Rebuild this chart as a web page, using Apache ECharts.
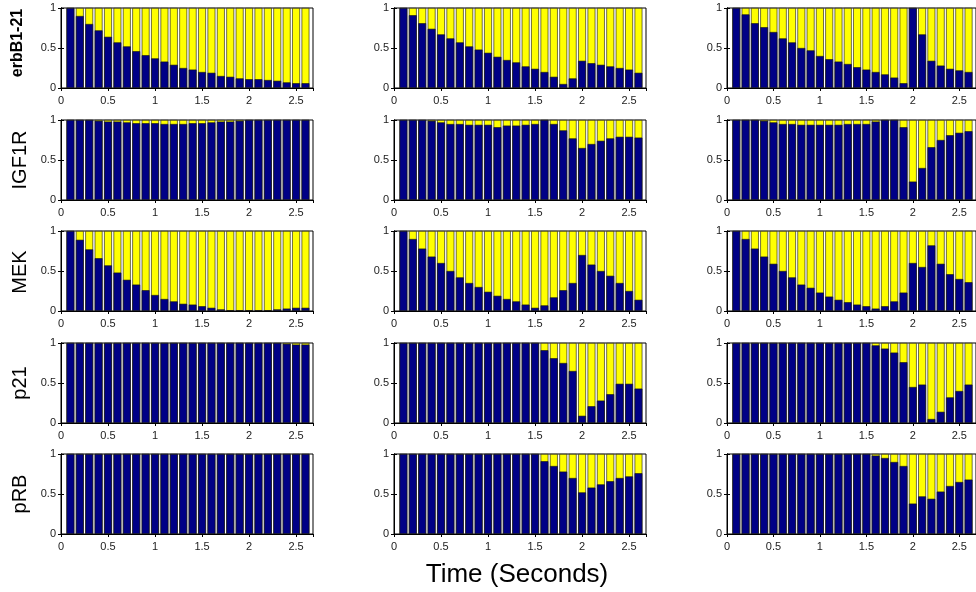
<!DOCTYPE html>
<html>
<head>
<meta charset="utf-8">
<script src="https://cdn.jsdelivr.net/npm/echarts@6/dist/echarts.min.js"></script>
<style>
html,body{margin:0;padding:0;background:#fff;}
#chart{width:976px;height:592px;}
</style>
</head>
<body>
<div id="chart"></div>
<script>
const times = [0.1,0.2,0.3,0.4,0.5,0.6,0.7,0.8,0.9,1.0,1.1,1.2,1.3,1.4,1.5,1.6,1.7,1.8,1.9,2.0,2.1,2.2,2.3,2.4,2.5,2.6];
const rowLabels = ['erbB1-21','IGF1R','MEK','p21','pRB'];
const xTickLabels = ['0','0.5','1','1.5','2','2.5'];
const yTickLabels = ['0','0.5','1'];
const xLabel = 'Time (Seconds)';

const erb_a = [1.00,0.90,0.80,0.72,0.64,0.57,0.52,0.46,0.41,0.37,0.33,0.29,0.25,0.23,0.20,0.19,0.15,0.14,0.12,0.11,0.11,0.10,0.09,0.07,0.06,0.06];
const erb_b = [1.00,0.91,0.81,0.74,0.67,0.62,0.57,0.52,0.48,0.44,0.39,0.35,0.32,0.27,0.24,0.20,0.14,0.05,0.12,0.34,0.31,0.29,0.27,0.25,0.23,0.19];
const erb_c = [1.00,0.92,0.81,0.76,0.70,0.62,0.57,0.50,0.47,0.40,0.36,0.33,0.30,0.26,0.23,0.20,0.17,0.13,0.06,1.00,0.67,0.34,0.28,0.24,0.22,0.20];

const igf_a = [1.00,1.00,1.00,0.99,0.98,0.98,0.97,0.96,0.96,0.96,0.95,0.95,0.95,0.96,0.96,0.97,0.98,0.98,0.99,1.00,1.00,1.00,1.00,1.00,1.00,1.00];
const igf_b = [1.00,1.00,1.00,0.99,0.97,0.95,0.95,0.94,0.94,0.94,0.91,0.93,0.93,0.94,0.95,1.00,0.95,0.87,0.77,0.65,0.70,0.74,0.77,0.79,0.79,0.78];
const igf_c = [1.00,1.00,1.00,0.99,0.97,0.95,0.95,0.94,0.94,0.94,0.94,0.94,0.95,0.95,0.95,0.98,1.00,1.00,0.91,0.23,0.40,0.66,0.75,0.81,0.84,0.86];

const mek_a = [1.00,0.89,0.77,0.66,0.57,0.48,0.39,0.33,0.26,0.20,0.15,0.12,0.09,0.08,0.06,0.04,0.02,0.01,0.01,0.01,0.01,0.01,0.02,0.03,0.04,0.04];
const mek_b = [1.00,0.90,0.78,0.68,0.60,0.50,0.42,0.35,0.30,0.24,0.19,0.15,0.12,0.08,0.04,0.07,0.17,0.26,0.35,0.70,0.58,0.50,0.44,0.35,0.25,0.14];
const mek_c = [1.00,0.90,0.78,0.68,0.59,0.50,0.42,0.33,0.29,0.23,0.18,0.14,0.11,0.08,0.06,0.03,0.06,0.12,0.23,0.60,0.55,0.82,0.59,0.46,0.40,0.36];

const p21_a = [1.00,1.00,1.00,1.00,1.00,1.00,1.00,1.00,1.00,1.00,1.00,1.00,1.00,1.00,1.00,1.00,1.00,1.00,1.00,1.00,1.00,1.00,1.00,0.99,0.98,0.98];
const p21_b = [1.00,1.00,1.00,1.00,1.00,1.00,1.00,1.00,1.00,1.00,1.00,1.00,1.00,1.00,1.00,0.91,0.81,0.75,0.65,0.09,0.21,0.28,0.36,0.49,0.49,0.43];
const p21_c = [1.00,1.00,1.00,1.00,1.00,1.00,1.00,1.00,1.00,1.00,1.00,1.00,1.00,1.00,1.00,0.97,0.93,0.88,0.76,0.45,0.48,0.05,0.14,0.32,0.40,0.48];

const prb_a = [1.00,1.00,1.00,1.00,1.00,1.00,1.00,1.00,1.00,1.00,1.00,1.00,1.00,1.00,1.00,1.00,1.00,1.00,1.00,1.00,1.00,1.00,1.00,1.00,1.00,1.00];
const prb_b = [1.00,1.00,1.00,1.00,1.00,1.00,1.00,1.00,1.00,1.00,1.00,1.00,1.00,1.00,1.00,0.91,0.85,0.78,0.70,0.52,0.58,0.62,0.66,0.70,0.72,0.76];
const prb_c = [1.00,1.00,1.00,1.00,1.00,1.00,1.00,1.00,1.00,1.00,1.00,1.00,1.00,1.00,1.00,0.98,0.95,0.90,0.85,0.38,0.47,0.44,0.53,0.60,0.65,0.68];

const panels = [
  [erb_a, erb_b, erb_c],
  [igf_a, igf_b, igf_c],
  [mek_a, mek_b, mek_c],
  [p21_a, p21_b, p21_c],
  [prb_a, prb_b, prb_c]
];

const NAVY = '#000086';
const YELLOW = '#ffff00';
const colLefts = [61, 394, 727];
const rowTops = [8, 120, 231, 343, 454];
const W = 252, H = 80;
const XMAX = 2.68;

const grid = [], xAxis = [], yAxis = [], series = [], graphic = [];
const labelFont = {color:'#222', fontSize:11, fontFamily:'Liberation Sans, Arial, sans-serif'};

panels.forEach((row, r) => {
  row.forEach((vals, c) => {
    const gi = grid.length;
    grid.push({left: colLefts[c], top: rowTops[r], width: W, height: H,
      show: true, borderColor: '#000', borderWidth: 1, backgroundColor: '#fff'});
    const xi = xAxis.length, yi = yAxis.length;
    xAxis.push({type:'value', gridIndex: gi, min:0, max:XMAX, interval:0.5, position:'bottom',
      axisLine:{show:true, lineStyle:{color:'#000', width:1}},
      axisTick:{show:true, inside:true, length:3, lineStyle:{color:'#000'}},
      axisLabel:Object.assign({show:true, margin:7, showMaxLabel:false,
        formatter: v => { const i = Math.round(v/0.5); return (Math.abs(v - i*0.5) < 1e-6 && xTickLabels[i] !== undefined) ? xTickLabels[i] : ''; }}, labelFont),
      splitLine:{show:false}});
    xAxis.push({type:'value', gridIndex: gi, min:0, max:XMAX, interval:0.5, position:'top',
      axisLine:{show:true, lineStyle:{color:'#000', width:1}},
      axisTick:{show:true, inside:true, length:3, lineStyle:{color:'#000'}},
      axisLabel:{show:false}, splitLine:{show:false}});
    yAxis.push({type:'value', gridIndex: gi, min:0, max:1, interval:0.5, position:'left',
      axisLine:{show:true, lineStyle:{color:'#000', width:1}},
      axisTick:{show:true, inside:true, length:3, lineStyle:{color:'#000'}},
      axisLabel:Object.assign({show:true, margin:5,
        formatter: v => { const i = Math.round(v/0.5); return yTickLabels[i] !== undefined ? yTickLabels[i] : ''; }}, labelFont),
      splitLine:{show:false}});
    yAxis.push({type:'value', gridIndex: gi, min:0, max:1, interval:0.5, position:'right',
      axisLine:{show:true, lineStyle:{color:'#000', width:1}},
      axisTick:{show:true, inside:true, length:3, lineStyle:{color:'#000'}},
      axisLabel:{show:false}, splitLine:{show:false}});
    series.push({type:'bar', xAxisIndex: xi, yAxisIndex: yi, barWidth: 7.8, barGap:'-100%',
      silent:true, animation:false,
      itemStyle:{color: YELLOW, borderColor:'#111', borderWidth:0.6},
      data: times.map(t => [t, 1])});
    series.push({type:'bar', xAxisIndex: xi, yAxisIndex: yi, barWidth: 7.8, barGap:'-100%',
      silent:true, animation:false,
      itemStyle:{color: NAVY, borderColor:'#111', borderWidth:0.6},
      data: times.map((t, i) => [t, vals[i]])});
  });
});

const rowLabelStyles = [
  {font:'bold 16px "Liberation Sans", Arial, sans-serif', x:18, y:43},
  {font:'20px "Liberation Sans", Arial, sans-serif', x:20, y:160},
  {font:'20px "Liberation Sans", Arial, sans-serif', x:20, y:272},
  {font:'20px "Liberation Sans", Arial, sans-serif', x:20, y:383},
  {font:'20px "Liberation Sans", Arial, sans-serif', x:20, y:494}
];
rowLabels.forEach((txt, r) => {
  const s = rowLabelStyles[r];
  graphic.push({type:'text', x:s.x, y:s.y, rotation:Math.PI/2,
    style:{text:txt, font:s.font, fill:'#000', textAlign:'center', textVerticalAlign:'middle'}});
});
graphic.push({type:'text', x:517, y:575,
  style:{text:xLabel, font:'26px "Liberation Sans", Arial, sans-serif', fill:'#000', textAlign:'center', textVerticalAlign:'middle'}});

const chart = echarts.init(document.getElementById('chart'), null, {renderer:'canvas'});
chart.setOption({animation:false, backgroundColor:'#fff', grid, xAxis, yAxis, series, graphic});
</script>
</body>
</html>
